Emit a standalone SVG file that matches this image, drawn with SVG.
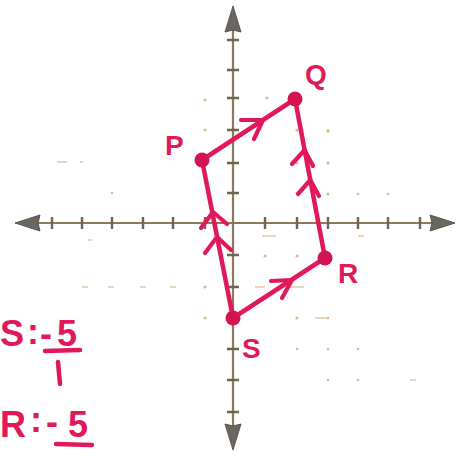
<svg xmlns="http://www.w3.org/2000/svg" width="463" height="454" viewBox="0 0 463 454">
<defs>
<style>
.axis{stroke:#8c7a58;stroke-width:2.2;fill:none}
.tick{stroke:#6e6450;stroke-width:2.4}
.head{fill:#6a6660;stroke:#5a5550;stroke-width:1}
.dot{fill:#e2b888}
.edge{stroke:#e0195a;stroke-width:4.5;fill:none;stroke-linecap:round;stroke-linejoin:round}
.chev{stroke:#e0195a;stroke-width:4.2;fill:none;stroke-linecap:round;stroke-linejoin:round}
.pt{fill:#d41450}
.lbl{font-family:"Liberation Sans",Arial,sans-serif;font-weight:bold;fill:#e0195a;font-size:28px}
.note{font-family:"Liberation Sans",Arial,sans-serif;font-weight:bold;fill:#e0195a;font-size:36px}
.bar{stroke:#e0195a;stroke-width:4.5;stroke-linecap:round}
</style>
</defs>
<rect width="463" height="454" fill="#ffffff"/>
<g id="grid-dots">
<circle class="dot" cx="205" cy="100" r="1.6"/><circle class="dot" cx="267" cy="98" r="1.6"/>
<circle class="dot" cx="205" cy="130" r="1.6"/><circle class="dot" cx="297" cy="130" r="1.6"/><circle class="dot" cx="328" cy="131" r="1.8"/>
<circle class="dot" cx="297" cy="163" r="1.6"/><circle class="dot" cx="328" cy="163" r="1.6"/>
<circle class="dot" cx="297" cy="193" r="1.6"/><circle class="dot" cx="328" cy="194" r="1.6"/>
<circle class="dot" cx="112" cy="193" r="1.3"/><circle class="dot" cx="358" cy="194" r="1.3"/><circle class="dot" cx="388" cy="194" r="1.3"/>
<circle class="dot" cx="265" cy="256" r="1.6"/><circle class="dot" cx="297" cy="256" r="1.6"/>
<circle class="dot" cx="205" cy="287" r="1.6"/><circle class="dot" cx="205" cy="318" r="1.6"/>
<circle class="dot" cx="297" cy="318" r="1.6"/><circle class="dot" cx="328" cy="318" r="1.3"/>
<circle class="dot" cx="297" cy="349" r="1.3"/><circle class="dot" cx="328" cy="349" r="1.3"/><circle class="dot" cx="358" cy="349" r="1.3"/>
<circle class="dot" cx="328" cy="380" r="1.3"/><circle class="dot" cx="358" cy="380" r="1.3"/>
<path d="M57 162h10M80 162h3M82 287h6M108 287h6M140 287h6M170 287h6M88 240h4M262 236h14M358 236h6M255 287h10M290 287h14M315 318h12M410 380h6" stroke="#e8c9a0" stroke-width="1.4"/>
</g>
<g id="axes">
<line class="axis" x1="32" y1="223" x2="438" y2="223"/>
<line class="axis" x1="233" y1="28" x2="233" y2="428"/>
<path class="head" d="M15 223 L40 215 L38 223 L40 231 Z"/>
<path class="head" d="M455 223 L430 215 L432 223 L430 231 Z"/>
<path class="head" d="M233 6 L225 32 L233 30 L241 32 Z"/>
<path class="head" d="M233 450 L225 424 L233 426 L241 424 Z"/>
<path class="tick" d="M52 217v12M82 217v12M112 217v12M143 217v12M173 217v12M205 217v12M265 217v12M297 217v12M328 217v12M358 217v12M388 217v12M420 217v12"/>
<path class="tick" d="M227 40h12M227 70h12M227 98h12M227 130h12M227 163h12M227 193h12M227 255h12M227 287h12M227 318h12M227 349h12M227 380h12M227 412h12"/>
</g>
<g id="connectors">
<path class="edge" d="M202 160 L295 99 L325 258 L233 318 Z"/>
<path class="chev" d="M241 120 L263 120 L254 139"/>
<path class="chev" d="M292 164 L304.6 150 L313 166"/>
<path class="chev" d="M298 194 L310.3 180 L319 196"/>
<path class="chev" d="M271 281 L292 280 L282 298"/>
<path class="chev" d="M205 253 L217 237 L231 250"/>
<path class="chev" d="M201 228 L213 212 L227 224"/>
</g>
<g id="node-P"><circle class="pt" cx="202" cy="160" r="7.5"/><text class="lbl" x="165" y="155">P</text></g>
<g id="node-Q"><circle class="pt" cx="295" cy="99" r="7.5"/><text class="lbl" x="305" y="84">Q</text></g>
<g id="node-R"><circle class="pt" cx="325" cy="258" r="7.5"/><text class="lbl" x="338" y="283">R</text></g>
<g id="node-S"><circle class="pt" cx="233" cy="318" r="7.5"/><text class="lbl" x="242" y="358">S</text></g>
<g id="notes">
<text class="note" x="0" y="346">S</text>
<text class="note" x="27" y="344">:</text>
<text class="note" x="40" y="346">-</text>
<text class="note" x="57" y="346">5</text>
<line class="bar" x1="45" y1="351" x2="80" y2="350"/>
<line class="bar" x1="58" y1="362" x2="60" y2="384"/>
<text class="note" x="0" y="437">R</text>
<text class="note" x="30" y="432">:</text>
<text class="note" x="46" y="434">-</text>
<text class="note" x="68" y="437">5</text>
<line class="bar" x1="56" y1="444" x2="92" y2="445"/>
</g>
</svg>
